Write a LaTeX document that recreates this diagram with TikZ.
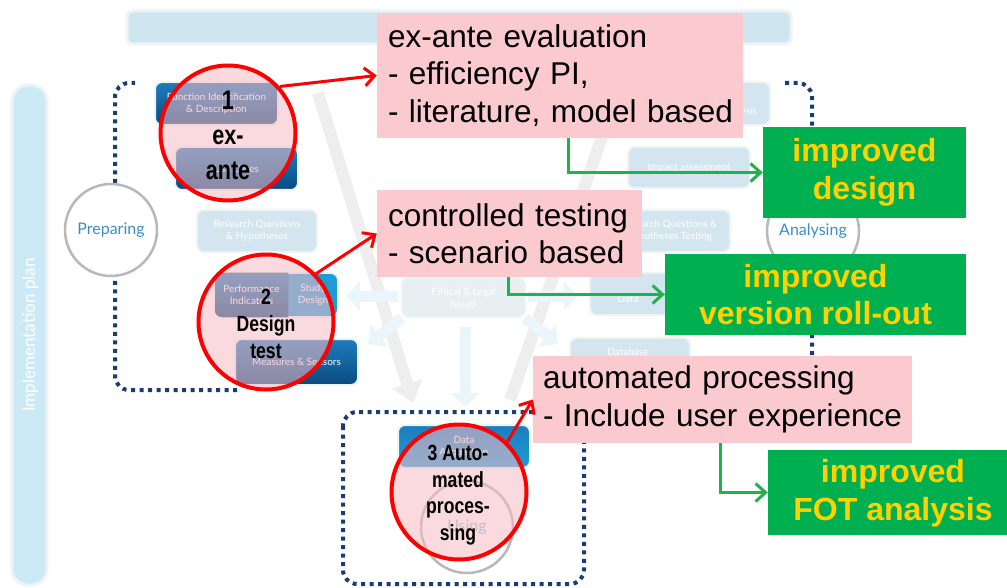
\documentclass[tikz,border=0pt]{standalone}
\usepackage{fontspec}
\setmainfont{Liberation Sans}
\newfontfamily\bgfont{Lato}
\newfontfamily\narrowfont[FakeStretch=0.8]{Liberation Sans}
\usetikzlibrary{arrows.meta,shapes.geometric}
\definecolor{navy}{HTML}{1B3C6E}
\definecolor{fadefill}{HTML}{D3E5EE}
\definecolor{fadeedge}{HTML}{EEF3F6}
\definecolor{darktop}{HTML}{1C7DBE}
\definecolor{darkbot}{HTML}{0B4A80}
\definecolor{brightblue}{HTML}{1E9CD8}
\definecolor{phasegray}{HTML}{B8B8B8}
\definecolor{phaseblue}{HTML}{3A8FC6}
\definecolor{circpink}{HTML}{F7BCC3}
\definecolor{pinkfill}{HTML}{FBCACE}
\definecolor{greenfill}{HTML}{00B050}
\definecolor{yellowtxt}{HTML}{FFD100}
\definecolor{greenline}{HTML}{22B24C}
\definecolor{armgray}{HTML}{EEEEEE}
\definecolor{armblue}{HTML}{EAF6FC}
\definecolor{bandfill}{HTML}{CFE6F1}
\definecolor{vbandfill}{HTML}{CCEAF6}
\definecolor{faintfill}{HTML}{E8EFF3}
\tikzset{
  dotline/.style={draw=navy, line width=4pt, dash pattern=on 4pt off 4.5pt, rounded corners=14pt},
  fadebox/.style={rounded corners=7pt, fill=fadefill, draw=fadeedge, line width=2pt, text=white,
    font=\bgfont\fontsize{10}{12}\selectfont, align=center, inner sep=0pt},
  darkbox/.style={fadebox, top color=darktop, bottom color=darkbot},
  bgtext/.style={text=white, font=\bgfont\fontsize{10}{12}\selectfont, align=center, inner sep=0pt},
  phase/.style={circle, draw=phasegray, line width=2.5pt, fill=white, inner sep=0pt, minimum size=92pt,
    text=phaseblue, font=\bgfont\fontsize{16}{18}\selectfont},
  redcirc/.style={circle, draw=red, line width=4pt, fill=circpink, fill opacity=0.55, minimum size=135pt, inner sep=0pt},
  ctext/.style={align=center, inner sep=0pt},
  pinkbox/.style={fill=pinkfill, inner xsep=11pt, inner ysep=0pt, align=left,
    font=\fontsize{31.5}{37.5}\selectfont},
  greenbox/.style={fill=greenfill, text=yellowtxt, align=center, inner sep=0pt,
    font=\bfseries\fontsize{32}{37.5}\selectfont},
  redarrow/.style={draw=red, line width=3pt, -{Straight Barb[length=10pt,width=18pt]}},
  greenarrow/.style={draw=greenline, line width=3pt, -{Straight Barb[length=10pt,width=18pt]}},
  greyarm/.style={draw=armgray, line width=12pt, -{Triangle[length=20pt,width=30pt]}},
  bluearm/.style={draw=armblue, line width=11pt, -{Triangle[length=14pt,width=28pt]}},
}
\begin{document}
\begin{tikzpicture}[x=1pt,y=-1pt]
\useasboundingbox (0,0) rectangle (1007,588);
\fill[white] (0,0) rectangle (1007,588);

% bands
\node[draw=fadeedge, line width=3pt, fill=bandfill, rounded corners=6pt, minimum width=664pt, minimum height=33pt, inner sep=0pt] (band) at (459,27.5) {};
\node[draw=fadeedge, line width=3pt, fill=vbandfill, rounded corners=16pt, minimum width=35pt, minimum height=500pt, inner sep=0pt] (vband) at (29.5,335) {};
\node[rotate=90, text=white, font=\bgfont\fontsize{17}{19}\selectfont, inner sep=0pt] (vbandt) at (30,335) {Implementation plan};

% V arms and light arrows
\coordinate (la1) at (318,93); \coordinate (la2) at (413,403);
\coordinate (ra1) at (510,400); \coordinate (ra2) at (615,100);
\draw[greyarm] (la1) -- (la2);
\draw[greyarm] (ra1) -- (ra2);
\coordinate (b1) at (465,327); \coordinate (b2) at (465,407);
\coordinate (b3) at (398,296); \coordinate (b4) at (346,296);
\coordinate (b5) at (402,318); \coordinate (b6) at (368,344);
\coordinate (b7) at (528,296); \coordinate (b8) at (578,296);
\coordinate (b9) at (525,318); \coordinate (b10) at (558,344);
\draw[bluearm] (b1) -- (b2);
\draw[bluearm] (b3) -- (b4);
\draw[bluearm] (b5) -- (b6);
\draw[bluearm] (b7) -- (b8);
\draw[bluearm] (b9) -- (b10);

% dotted brackets
\draw[dotline] (237,390) -- (115,390) -- (115,83) -- (135,83);
\draw[dotline] (785,83) -- (812,83) -- (812,390) -- (700,390);
\draw[dotline] (343,412) rectangle (584,584);

% background boxes
\node[darkbox, minimum width=123pt, minimum height=43pt] (fid) at (216.5,103.5) {Function Identification\\\& Description};
\node[darkbox, minimum width=123pt, minimum height=43pt] (uc) at (236.5,168.5) {Use Cases};
\node[fadebox, minimum width=120pt, minimum height=42pt] (rqh) at (257,231) {Research Questions\\\& Hypotheses};
\node[fadebox, fill=brightblue, minimum width=123pt, minimum height=44pt] (pisd) at (276.5,295) {};
\begin{scope}
\clip (213,270) rectangle (288,320);
\fill[top color=darktop, bottom color=darkbot, rounded corners=7pt] (215,273) rectangle (338,317);
\end{scope}
\node[bgtext] (pit) at (251.5,295) {Performance\\Indicators};
\node[bgtext] (sdt) at (313,295) {Study\\Design};
\node[darkbox, minimum width=123pt, minimum height=46pt] (ms) at (296.5,362) {Measures \& Sensors};
\node[fadebox, fill=faintfill, minimum width=123pt, minimum height=39pt] (eli) at (463.5,297.5) {Ethical \& Legal\\Issues};
\node[fadebox, top color=darktop, bottom color=brightblue, minimum width=132pt, minimum height=43pt] (da) at (464,446.5) {Data\\Acquisition};
\node[fadebox, minimum width=122pt, minimum height=43pt] (ana) at (709,103.5) {};
\begin{scope}
\clip (744,80) rectangle (775,130);
\node[bgtext, anchor=east] (anat) at (757,112) {Analysis};
\end{scope}
\node[fadebox, minimum width=122pt, minimum height=41pt] (imp) at (689,167.5) {Impact assessment};
\node[fadebox, minimum width=122pt, minimum height=42pt] (rqt) at (669,231) {Research Questions \&\\Hypotheses Testing};
\node[fadebox, minimum width=122pt, minimum height=42pt] (dat) at (651,294) {};
\node[bgtext] (datt) at (628,299) {Data};
\node[fadebox, minimum width=120pt, minimum height=42pt] (dbx) at (630,359) {};
\node[bgtext] (dbxt) at (628,352) {Database};

% phase circles
\node[phase] (prep) at (111,230) {Preparing};
\node[phase] (anal) at (813,231) {Analysing};
\node[phase, fill=none, text=phaseblue!60] (using) at (467,527) {Using};

% red circles
\node[redcirc] (c1) at (228,133) {};
\node[redcirc] (c2) at (266,322) {};
\node[redcirc] (c3) at (459,492) {};
\node[ctext, font=\narrowfont\bfseries\fontsize{27}{35}\selectfont] (c1t) at (228,135) {1\\ex-\\ante};
\node[ctext, font=\narrowfont\bfseries\fontsize{22}{26.6}\selectfont] (c2t) at (266,324) {2\\Design\\test};
\node[ctext, font=\narrowfont\bfseries\fontsize{22}{26.6}\selectfont] (c3t) at (458,495) {3 Auto-\\mated\\proces-\\sing};

% pink boxes
\node[pinkbox, text width=344pt, minimum height=125pt] (p1) at (560,75.5) {\mbox{ex-ante evaluation}\\\mbox{- efficiency PI,}\\\mbox{- literature, model based}};
\node[pinkbox, text width=243pt, minimum height=87pt] (p2) at (509.5,233.5) {\mbox{controlled testing}\\\mbox{- scenario based}};
\node[pinkbox, inner xsep=10pt, text width=359pt, minimum height=87pt] (p3) at (722.5,399.5) {\mbox{automated processing}\\\mbox{- Include user experience}};

% green boxes
\node[greenbox, minimum width=203pt, minimum height=91pt] (g1) at (864.5,172.5) {improved\\design};
\node[greenbox, minimum width=301pt, minimum height=81pt] (g2) at (815.5,294.5) {improved\\version roll-out};
\node[greenbox, minimum width=239pt, minimum height=85pt] (g3) at (887.5,492.5) {};
\node[greenbox, fill=none] (g3t) at (893,493) {improved\\FOT analysis};

% connectors
\draw[redarrow] (c1.42) -- (p1.west);
\draw[redarrow] (c2.44) -- (p2.west);
\draw[redarrow] (c3.46) -- (p3.west);
\draw[greenarrow] ([xshift=192pt]p1.south west) |- (g1.west);
\draw[greenarrow] ([xshift=132pt]p2.south west) |- (g2.west);
\draw[greenarrow] ([xshift=188pt]p3.south west) |- (g3.west);
\end{tikzpicture}
\end{document}
